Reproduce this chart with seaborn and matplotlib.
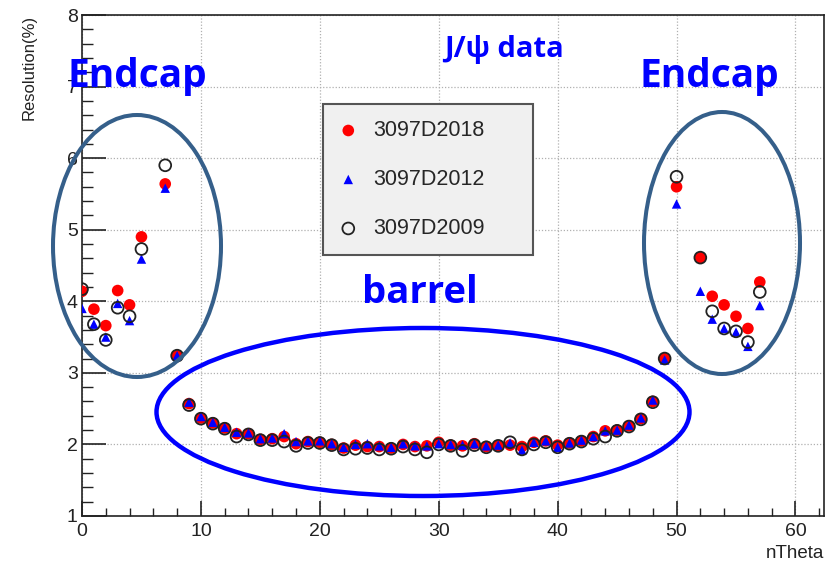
import matplotlib
matplotlib.use("Agg")
import matplotlib.pyplot as plt
from matplotlib.patches import Ellipse
from matplotlib.ticker import MultipleLocator
import pandas as pd
import seaborn as sns

# theta-bin index of each measured point (bins 6 and 51 have no entry)
n_theta = [0, 1, 2, 3, 4, 5, 7, 8, 9, 10, 11, 12, 13, 14, 15, 16, 17, 18, 19,
           20, 21, 22, 23, 24, 25, 26, 27, 28, 29, 30, 31, 32, 33, 34, 35, 36,
           37, 38, 39, 40, 41, 42, 43, 44, 45, 46, 47, 48, 49, 50, 52, 53, 54,
           55, 56, 57]

# momentum resolution (%) per data set
res_2018 = [4.14, 3.89, 3.66, 4.15, 3.95, 4.90, 5.64, 3.24, 2.57, 2.37, 2.30,
            2.23, 2.15, 2.15, 2.07, 2.08, 2.11, 2.01, 2.04, 2.03, 2.00, 1.95,
            1.99, 1.97, 1.97, 1.95, 2.00, 1.97, 1.98, 2.03, 1.99, 1.98, 2.01,
            1.97, 1.98, 1.99, 1.97, 2.03, 2.05, 1.99, 2.02, 2.05, 2.11, 2.19,
            2.20, 2.26, 2.36, 2.60, 3.20, 5.60, 4.61, 4.07, 3.95, 3.79, 3.62,
            4.27]
res_2012 = [3.90, 3.68, 3.50, 3.97, 3.73, 4.59, 5.58, 3.24, 2.59, 2.39, 2.31,
            2.24, 2.17, 2.16, 2.08, 2.09, 2.15, 2.04, 2.05, 2.05, 2.01, 1.96,
            2.00, 2.01, 1.98, 1.96, 2.01, 1.98, 1.98, 2.01, 2.00, 1.99, 2.01,
            1.98, 1.99, 2.02, 1.92, 2.03, 2.05, 1.96, 2.02, 2.06, 2.11, 2.19,
            2.20, 2.27, 2.37, 2.62, 3.18, 5.36, 4.14, 3.75, 3.62, 3.57, 3.37,
            3.94]
res_2009 = [4.17, 3.68, 3.46, 3.91, 3.79, 4.73, 5.90, 3.24, 2.55, 2.36, 2.29,
            2.22, 2.11, 2.14, 2.06, 2.06, 2.04, 1.98, 2.02, 2.02, 1.99, 1.93,
            1.94, 1.95, 1.93, 1.94, 1.97, 1.93, 1.89, 2.00, 1.98, 1.91, 1.99,
            1.96, 1.98, 2.03, 1.93, 2.00, 2.03, 1.96, 2.01, 2.04, 2.08, 2.11,
            2.19, 2.25, 2.35, 2.59, 3.20, 5.74, 4.61, 3.86, 3.62, 3.58, 3.43,
            4.13]

labels = ["3097D2018", "3097D2012", "3097D2009"]

df = pd.DataFrame({
    "nTheta": n_theta * 3,
    "Resolution": res_2018 + res_2012 + res_2009,
    "sample": sum([[lab] * len(n_theta) for lab in labels], []),
})

sns.set_style("ticks")
plt.rcParams["font.family"] = ["Liberation Sans", "DejaVu Sans"]

W, H = 836, 562
fig = plt.figure(figsize=(W / 100, H / 100), dpi=100)
ax = fig.add_axes([82 / W, 1 - 516 / H, 742 / W, 501 / H])

styles = {
    "3097D2018": dict(marker="o", color="#ff0000", edgecolor="none", s=70),
    "3097D2012": dict(marker="^", color="#0000ff", edgecolor="none", s=46),
    "3097D2009": dict(marker="o", facecolor="none", edgecolor="#222222",
                      linewidth=1.3, s=72),
}
for lab in labels:
    sub = df[df["sample"] == lab]
    sns.scatterplot(data=sub, x="nTheta", y="Resolution", ax=ax, label=lab,
                    zorder=3, **styles[lab])

ax.set_xlim(0, 62.4)
ax.set_ylim(1, 8)
ax.xaxis.set_major_locator(MultipleLocator(10))
ax.xaxis.set_minor_locator(MultipleLocator(2))
ax.yaxis.set_major_locator(MultipleLocator(1))
ax.yaxis.set_minor_locator(MultipleLocator(0.2))
ax.grid(True, which="major", linestyle=(0, (1, 1.5)), color="#b0b0b0",
        linewidth=0.9)
ax.set_axisbelow(True)

for sp in ax.spines.values():
    sp.set_linewidth(1.2)
    sp.set_color("#222222")

ax.tick_params(axis="y", which="major", direction="in", length=17, width=1.2,
               labelsize=14, pad=3, colors="#222222")
ax.tick_params(axis="y", which="minor", direction="in", length=8, width=1.0,
               colors="#222222")
ax.tick_params(axis="x", which="major", direction="in", length=11, width=1.2,
               labelsize=14, pad=5, colors="#222222")
ax.tick_params(axis="x", which="minor", direction="in", length=6, width=1.0,
               colors="#222222")

ax.set_ylabel("Resolution(%)", fontsize=12, loc="top", color="#222222")
ax.yaxis.set_label_coords((37 - 82) / 742, 1.0)
ax.set_xlabel("nTheta", fontsize=13.5, loc="right", color="#222222")
ax.xaxis.set_label_coords(1.0, (516 - 545) / 501)

leg = ax.legend(loc="upper left", mode="expand",
                bbox_to_anchor=((323 - 82) / 742, 0, (533 - 323) / 742,
                                (516 - 104) / 501),
                fontsize=15.5, frameon=True, fancybox=False, framealpha=1,
                borderpad=0.75, labelspacing=1.3, handlelength=0.85,
                handletextpad=0.75, borderaxespad=0)
leg.get_frame().set_facecolor("#f0f0f0")
leg.get_frame().set_edgecolor("#555555")
leg.get_frame().set_linewidth(1.5)


def fig_ellipse(cx, cy, w, h, color, lw):
    """Outline ellipse given in pixel units of the figure."""
    e = Ellipse((cx / W, 1 - cy / H), w / W, h / H, transform=fig.transFigure,
                fill=False, edgecolor=color, linewidth=lw, clip_on=False)
    fig.add_artist(e)


fig_ellipse(137, 246, 168, 262, "#355f8a", 2.9)
fig_ellipse(722, 243, 156, 262, "#355f8a", 2.9)
fig_ellipse(423, 412, 533, 168, "#0000ff", 3.2)

note = dict(color="#0000ff", fontweight="bold", family=["Open Sans", "DejaVu Sans"],
            ha="center", va="baseline")
fig.text(137.5 / W, 1 - 87 / H, "Endcap", fontsize=28, **note)
fig.text(709 / W, 1 - 87 / H, "Endcap", fontsize=28, **note)
fig.text(504 / W, 1 - 57 / H, "J/ψ data", fontsize=21, **note)
fig.text(420 / W, 1 - 303 / H, "barrel", fontsize=27.5, **note)

fig.savefig("out.png", dpi=100)
